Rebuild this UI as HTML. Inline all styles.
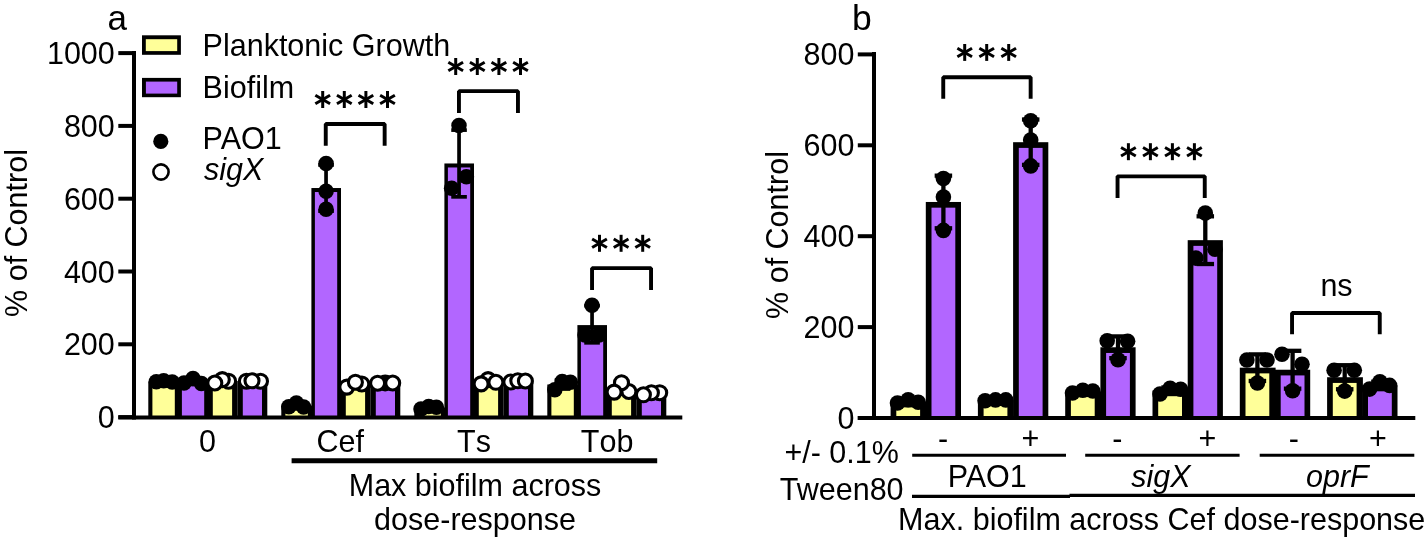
<!DOCTYPE html>
<html><head><meta charset="utf-8"><style>
html,body{margin:0;padding:0;background:#fff;overflow:hidden;width:1425px;height:540px;}
svg{display:block;will-change:transform;}
text{font-family:"Liberation Sans", sans-serif;fill:#000;}
</style></head><body>
<svg width="1425" height="540" viewBox="0 0 1425 540">
<rect width="1425" height="540" fill="#fff"/>
<rect x="148.30" y="381.53" width="30.70" height="35.97" fill="#000"/>
<rect x="152.40" y="385.53" width="22.40" height="31.97" fill="#FFFF99"/>
<rect x="178.40" y="381.67" width="29.60" height="35.83" fill="#000"/>
<rect x="181.90" y="385.67" width="22.30" height="31.83" fill="#B266FF"/>
<rect x="208.00" y="381.27" width="29.30" height="36.23" fill="#000"/>
<rect x="212.80" y="386.57" width="19.30" height="30.93" fill="#FFFF99"/>
<rect x="237.30" y="381.07" width="30.00" height="36.43" fill="#000"/>
<rect x="242.80" y="386.37" width="19.20" height="31.13" fill="#B266FF"/>
<rect x="281.30" y="405.60" width="30.70" height="11.90" fill="#000"/>
<rect x="285.40" y="409.60" width="22.40" height="7.90" fill="#FFFF99"/>
<rect x="311.40" y="188.03" width="29.60" height="229.47" fill="#000"/>
<rect x="314.90" y="192.03" width="22.30" height="225.47" fill="#B266FF"/>
<rect x="341.00" y="384.43" width="29.30" height="33.07" fill="#000"/>
<rect x="345.80" y="389.73" width="19.30" height="27.77" fill="#FFFF99"/>
<rect x="370.30" y="383.07" width="30.00" height="34.43" fill="#000"/>
<rect x="375.80" y="388.37" width="19.20" height="29.13" fill="#B266FF"/>
<rect x="414.30" y="407.60" width="30.70" height="9.90" fill="#000"/>
<rect x="418.40" y="411.60" width="22.40" height="5.90" fill="#FFFF99"/>
<rect x="444.40" y="163.47" width="29.60" height="254.03" fill="#000"/>
<rect x="447.90" y="167.47" width="22.30" height="250.03" fill="#B266FF"/>
<rect x="474.00" y="381.93" width="29.30" height="35.57" fill="#000"/>
<rect x="478.80" y="387.23" width="19.30" height="30.27" fill="#FFFF99"/>
<rect x="503.30" y="381.27" width="30.00" height="36.23" fill="#000"/>
<rect x="508.80" y="386.57" width="19.20" height="30.93" fill="#B266FF"/>
<rect x="547.30" y="384.50" width="30.70" height="33.00" fill="#000"/>
<rect x="551.40" y="388.50" width="22.40" height="29.00" fill="#FFFF99"/>
<rect x="577.40" y="325.10" width="29.60" height="92.40" fill="#000"/>
<rect x="580.90" y="329.10" width="22.30" height="88.40" fill="#B266FF"/>
<rect x="607.00" y="388.77" width="29.30" height="28.73" fill="#000"/>
<rect x="611.80" y="394.07" width="19.30" height="23.43" fill="#FFFF99"/>
<rect x="636.30" y="393.40" width="30.00" height="24.10" fill="#000"/>
<rect x="641.80" y="398.70" width="19.20" height="18.80" fill="#B266FF"/>
<line x1="163.60" y1="380.89" x2="163.60" y2="382.18" stroke="#000" stroke-width="3.7" stroke-linecap="butt"/>
<line x1="155.80" y1="380.89" x2="171.40" y2="380.89" stroke="#000" stroke-width="3.7" stroke-linecap="butt"/>
<line x1="155.80" y1="382.18" x2="171.40" y2="382.18" stroke="#000" stroke-width="3.7" stroke-linecap="butt"/>
<circle cx="156.30" cy="381.80" r="7.75" fill="#000"/>
<circle cx="163.70" cy="380.80" r="7.75" fill="#000"/>
<circle cx="172.20" cy="382.00" r="7.75" fill="#000"/>
<line x1="193.05" y1="378.91" x2="193.05" y2="384.42" stroke="#000" stroke-width="3.7" stroke-linecap="butt"/>
<line x1="185.25" y1="378.91" x2="200.85" y2="378.91" stroke="#000" stroke-width="3.7" stroke-linecap="butt"/>
<line x1="185.25" y1="384.42" x2="200.85" y2="384.42" stroke="#000" stroke-width="3.7" stroke-linecap="butt"/>
<circle cx="184.00" cy="383.00" r="7.75" fill="#000"/>
<circle cx="193.00" cy="378.50" r="7.75" fill="#000"/>
<circle cx="201.40" cy="383.50" r="7.75" fill="#000"/>
<line x1="222.45" y1="379.57" x2="222.45" y2="382.97" stroke="#000" stroke-width="3.7" stroke-linecap="butt"/>
<line x1="214.65" y1="379.57" x2="230.25" y2="379.57" stroke="#000" stroke-width="3.7" stroke-linecap="butt"/>
<line x1="214.65" y1="382.97" x2="230.25" y2="382.97" stroke="#000" stroke-width="3.7" stroke-linecap="butt"/>
<circle cx="228.60" cy="381.20" r="7.0" fill="#fff" stroke="#000" stroke-width="3.1"/>
<circle cx="222.30" cy="379.60" r="7.0" fill="#fff" stroke="#000" stroke-width="3.1"/>
<circle cx="214.80" cy="383.00" r="7.0" fill="#fff" stroke="#000" stroke-width="3.1"/>
<line x1="252.40" y1="380.84" x2="252.40" y2="381.30" stroke="#000" stroke-width="3.7" stroke-linecap="butt"/>
<line x1="244.60" y1="380.84" x2="260.20" y2="380.84" stroke="#000" stroke-width="3.7" stroke-linecap="butt"/>
<line x1="244.60" y1="381.30" x2="260.20" y2="381.30" stroke="#000" stroke-width="3.7" stroke-linecap="butt"/>
<circle cx="246.40" cy="381.20" r="7.0" fill="#fff" stroke="#000" stroke-width="3.1"/>
<circle cx="260.50" cy="381.20" r="7.0" fill="#fff" stroke="#000" stroke-width="3.1"/>
<circle cx="252.00" cy="380.80" r="7.0" fill="#fff" stroke="#000" stroke-width="3.1"/>
<line x1="296.60" y1="403.35" x2="296.60" y2="407.85" stroke="#000" stroke-width="3.7" stroke-linecap="butt"/>
<line x1="288.80" y1="403.35" x2="304.40" y2="403.35" stroke="#000" stroke-width="3.7" stroke-linecap="butt"/>
<line x1="288.80" y1="407.85" x2="304.40" y2="407.85" stroke="#000" stroke-width="3.7" stroke-linecap="butt"/>
<circle cx="288.80" cy="406.80" r="7.75" fill="#000"/>
<circle cx="303.60" cy="407.00" r="7.75" fill="#000"/>
<circle cx="296.40" cy="403.00" r="7.75" fill="#000"/>
<line x1="326.05" y1="164.96" x2="326.05" y2="211.11" stroke="#000" stroke-width="3.7" stroke-linecap="butt"/>
<line x1="318.25" y1="164.96" x2="333.85" y2="164.96" stroke="#000" stroke-width="3.7" stroke-linecap="butt"/>
<line x1="318.25" y1="211.11" x2="333.85" y2="211.11" stroke="#000" stroke-width="3.7" stroke-linecap="butt"/>
<circle cx="326.10" cy="163.50" r="7.75" fill="#000"/>
<circle cx="326.10" cy="191.30" r="7.75" fill="#000"/>
<circle cx="326.10" cy="209.30" r="7.75" fill="#000"/>
<line x1="355.45" y1="381.95" x2="355.45" y2="386.91" stroke="#000" stroke-width="3.7" stroke-linecap="butt"/>
<line x1="347.65" y1="381.95" x2="363.25" y2="381.95" stroke="#000" stroke-width="3.7" stroke-linecap="butt"/>
<line x1="347.65" y1="386.91" x2="363.25" y2="386.91" stroke="#000" stroke-width="3.7" stroke-linecap="butt"/>
<circle cx="346.80" cy="387.10" r="7.0" fill="#fff" stroke="#000" stroke-width="3.1"/>
<circle cx="361.80" cy="384.00" r="7.0" fill="#fff" stroke="#000" stroke-width="3.1"/>
<circle cx="355.40" cy="382.20" r="7.0" fill="#fff" stroke="#000" stroke-width="3.1"/>
<line x1="385.40" y1="382.95" x2="385.40" y2="383.18" stroke="#000" stroke-width="3.7" stroke-linecap="butt"/>
<line x1="377.60" y1="382.95" x2="393.20" y2="382.95" stroke="#000" stroke-width="3.7" stroke-linecap="butt"/>
<line x1="377.60" y1="383.18" x2="393.20" y2="383.18" stroke="#000" stroke-width="3.7" stroke-linecap="butt"/>
<circle cx="385.20" cy="383.00" r="8.5" fill="#000"/>
<circle cx="377.60" cy="383.20" r="7.0" fill="#fff" stroke="#000" stroke-width="3.1"/>
<circle cx="392.70" cy="383.00" r="7.0" fill="#fff" stroke="#000" stroke-width="3.1"/>
<line x1="429.60" y1="406.35" x2="429.60" y2="408.85" stroke="#000" stroke-width="3.7" stroke-linecap="butt"/>
<line x1="421.80" y1="406.35" x2="437.40" y2="406.35" stroke="#000" stroke-width="3.7" stroke-linecap="butt"/>
<line x1="421.80" y1="408.85" x2="437.40" y2="408.85" stroke="#000" stroke-width="3.7" stroke-linecap="butt"/>
<circle cx="421.00" cy="409.00" r="7.75" fill="#000"/>
<circle cx="428.70" cy="406.60" r="7.75" fill="#000"/>
<circle cx="436.40" cy="407.20" r="7.75" fill="#000"/>
<line x1="459.05" y1="130.09" x2="459.05" y2="196.85" stroke="#000" stroke-width="3.7" stroke-linecap="butt"/>
<line x1="451.25" y1="130.09" x2="466.85" y2="130.09" stroke="#000" stroke-width="3.7" stroke-linecap="butt"/>
<line x1="451.25" y1="196.85" x2="466.85" y2="196.85" stroke="#000" stroke-width="3.7" stroke-linecap="butt"/>
<circle cx="459.00" cy="125.50" r="7.75" fill="#000"/>
<circle cx="466.40" cy="176.70" r="7.75" fill="#000"/>
<circle cx="451.60" cy="188.20" r="7.75" fill="#000"/>
<line x1="488.45" y1="379.76" x2="488.45" y2="384.11" stroke="#000" stroke-width="3.7" stroke-linecap="butt"/>
<line x1="480.65" y1="379.76" x2="496.25" y2="379.76" stroke="#000" stroke-width="3.7" stroke-linecap="butt"/>
<line x1="480.65" y1="384.11" x2="496.25" y2="384.11" stroke="#000" stroke-width="3.7" stroke-linecap="butt"/>
<circle cx="488.10" cy="379.60" r="7.0" fill="#fff" stroke="#000" stroke-width="3.1"/>
<circle cx="481.10" cy="383.90" r="7.0" fill="#fff" stroke="#000" stroke-width="3.1"/>
<circle cx="495.90" cy="382.30" r="7.0" fill="#fff" stroke="#000" stroke-width="3.1"/>
<line x1="518.40" y1="380.62" x2="518.40" y2="381.91" stroke="#000" stroke-width="3.7" stroke-linecap="butt"/>
<line x1="510.60" y1="380.62" x2="526.20" y2="380.62" stroke="#000" stroke-width="3.7" stroke-linecap="butt"/>
<line x1="510.60" y1="381.91" x2="526.20" y2="381.91" stroke="#000" stroke-width="3.7" stroke-linecap="butt"/>
<circle cx="510.80" cy="382.00" r="7.0" fill="#fff" stroke="#000" stroke-width="3.1"/>
<circle cx="517.80" cy="380.80" r="7.0" fill="#fff" stroke="#000" stroke-width="3.1"/>
<circle cx="525.40" cy="381.00" r="7.0" fill="#fff" stroke="#000" stroke-width="3.1"/>
<line x1="562.60" y1="379.98" x2="562.60" y2="389.02" stroke="#000" stroke-width="3.7" stroke-linecap="butt"/>
<line x1="554.80" y1="379.98" x2="570.40" y2="379.98" stroke="#000" stroke-width="3.7" stroke-linecap="butt"/>
<line x1="554.80" y1="389.02" x2="570.40" y2="389.02" stroke="#000" stroke-width="3.7" stroke-linecap="butt"/>
<circle cx="554.80" cy="389.70" r="7.75" fill="#000"/>
<circle cx="562.20" cy="381.50" r="7.75" fill="#000"/>
<circle cx="570.40" cy="382.30" r="7.75" fill="#000"/>
<line x1="592.05" y1="305.60" x2="592.05" y2="342.80" stroke="#000" stroke-width="3.7" stroke-linecap="butt"/>
<line x1="584.25" y1="305.60" x2="599.85" y2="305.60" stroke="#000" stroke-width="3.7" stroke-linecap="butt"/>
<line x1="584.25" y1="342.80" x2="599.85" y2="342.80" stroke="#000" stroke-width="3.7" stroke-linecap="butt"/>
<circle cx="592.00" cy="305.20" r="7.75" fill="#000"/>
<circle cx="585.00" cy="335.00" r="7.75" fill="#000"/>
<circle cx="599.00" cy="335.00" r="7.75" fill="#000"/>
<line x1="621.45" y1="383.50" x2="621.45" y2="394.03" stroke="#000" stroke-width="3.7" stroke-linecap="butt"/>
<line x1="613.65" y1="383.50" x2="629.25" y2="383.50" stroke="#000" stroke-width="3.7" stroke-linecap="butt"/>
<line x1="613.65" y1="394.03" x2="629.25" y2="394.03" stroke="#000" stroke-width="3.7" stroke-linecap="butt"/>
<circle cx="628.90" cy="391.50" r="7.0" fill="#fff" stroke="#000" stroke-width="3.1"/>
<circle cx="621.50" cy="382.70" r="7.0" fill="#fff" stroke="#000" stroke-width="3.1"/>
<circle cx="614.10" cy="392.10" r="7.0" fill="#fff" stroke="#000" stroke-width="3.1"/>
<line x1="651.40" y1="392.19" x2="651.40" y2="394.61" stroke="#000" stroke-width="3.7" stroke-linecap="butt"/>
<line x1="643.60" y1="392.19" x2="659.20" y2="392.19" stroke="#000" stroke-width="3.7" stroke-linecap="butt"/>
<line x1="643.60" y1="394.61" x2="659.20" y2="394.61" stroke="#000" stroke-width="3.7" stroke-linecap="butt"/>
<circle cx="659.70" cy="392.70" r="7.0" fill="#fff" stroke="#000" stroke-width="3.1"/>
<circle cx="651.40" cy="392.70" r="7.0" fill="#fff" stroke="#000" stroke-width="3.1"/>
<circle cx="643.40" cy="394.80" r="7.0" fill="#fff" stroke="#000" stroke-width="3.1"/>
<line x1="134.00" y1="51.00" x2="134.00" y2="419.50" stroke="#000" stroke-width="4" stroke-linecap="butt"/>
<line x1="118.30" y1="417.10" x2="134.00" y2="417.10" stroke="#000" stroke-width="4" stroke-linecap="butt"/>
<line x1="118.30" y1="344.30" x2="134.00" y2="344.30" stroke="#000" stroke-width="4" stroke-linecap="butt"/>
<line x1="118.30" y1="271.50" x2="134.00" y2="271.50" stroke="#000" stroke-width="4" stroke-linecap="butt"/>
<line x1="118.30" y1="198.70" x2="134.00" y2="198.70" stroke="#000" stroke-width="4" stroke-linecap="butt"/>
<line x1="118.30" y1="125.90" x2="134.00" y2="125.90" stroke="#000" stroke-width="4" stroke-linecap="butt"/>
<line x1="118.30" y1="53.10" x2="134.00" y2="53.10" stroke="#000" stroke-width="4" stroke-linecap="butt"/>
<line x1="118.30" y1="417.50" x2="682.30" y2="417.50" stroke="#000" stroke-width="4" stroke-linecap="butt"/>
<rect x="890.60" y="401.67" width="35.80" height="16.33" fill="#000"/>
<rect x="896.30" y="407.37" width="23.80" height="10.63" fill="#FFFF99"/>
<rect x="925.80" y="201.97" width="35.20" height="216.03" fill="#000"/>
<rect x="931.50" y="207.67" width="23.80" height="210.33" fill="#B266FF"/>
<rect x="977.90" y="400.20" width="35.80" height="17.80" fill="#000"/>
<rect x="983.60" y="405.90" width="23.80" height="12.10" fill="#FFFF99"/>
<rect x="1013.10" y="142.20" width="35.20" height="275.80" fill="#000"/>
<rect x="1018.80" y="147.90" width="23.80" height="270.10" fill="#B266FF"/>
<rect x="1065.20" y="391.40" width="35.80" height="26.60" fill="#000"/>
<rect x="1070.90" y="397.10" width="23.80" height="20.90" fill="#FFFF99"/>
<rect x="1100.40" y="347.27" width="35.20" height="70.73" fill="#000"/>
<rect x="1106.10" y="352.97" width="23.80" height="65.03" fill="#B266FF"/>
<rect x="1152.50" y="390.50" width="35.80" height="27.50" fill="#000"/>
<rect x="1158.20" y="396.20" width="23.80" height="21.80" fill="#FFFF99"/>
<rect x="1187.70" y="240.17" width="35.20" height="177.83" fill="#000"/>
<rect x="1193.40" y="245.87" width="23.80" height="172.13" fill="#B266FF"/>
<rect x="1239.80" y="367.67" width="35.80" height="50.33" fill="#000"/>
<rect x="1245.50" y="373.37" width="23.80" height="44.63" fill="#FFFF99"/>
<rect x="1275.00" y="369.73" width="35.20" height="48.27" fill="#000"/>
<rect x="1280.70" y="375.43" width="23.80" height="42.57" fill="#B266FF"/>
<rect x="1327.10" y="377.23" width="35.80" height="40.77" fill="#000"/>
<rect x="1332.80" y="382.93" width="23.80" height="35.07" fill="#FFFF99"/>
<rect x="1362.30" y="385.40" width="35.20" height="32.60" fill="#000"/>
<rect x="1368.00" y="391.10" width="23.80" height="26.90" fill="#B266FF"/>
<line x1="908.20" y1="400.00" x2="908.20" y2="403.33" stroke="#000" stroke-width="4.3" stroke-linecap="butt"/>
<line x1="899.45" y1="400.00" x2="916.95" y2="400.00" stroke="#000" stroke-width="4.3" stroke-linecap="butt"/>
<line x1="899.45" y1="403.33" x2="916.95" y2="403.33" stroke="#000" stroke-width="4.3" stroke-linecap="butt"/>
<circle cx="897.50" cy="403.00" r="7.8" fill="#000"/>
<circle cx="908.20" cy="399.80" r="7.8" fill="#000"/>
<circle cx="918.20" cy="402.20" r="7.8" fill="#000"/>
<line x1="943.40" y1="175.66" x2="943.40" y2="228.27" stroke="#000" stroke-width="4.3" stroke-linecap="butt"/>
<line x1="934.65" y1="175.66" x2="952.15" y2="175.66" stroke="#000" stroke-width="4.3" stroke-linecap="butt"/>
<line x1="934.65" y1="228.27" x2="952.15" y2="228.27" stroke="#000" stroke-width="4.3" stroke-linecap="butt"/>
<circle cx="943.40" cy="178.50" r="7.8" fill="#000"/>
<circle cx="943.40" cy="197.00" r="7.8" fill="#000"/>
<circle cx="943.40" cy="230.40" r="7.8" fill="#000"/>
<line x1="995.50" y1="399.68" x2="995.50" y2="400.72" stroke="#000" stroke-width="4.3" stroke-linecap="butt"/>
<line x1="986.75" y1="399.68" x2="1004.25" y2="399.68" stroke="#000" stroke-width="4.3" stroke-linecap="butt"/>
<line x1="986.75" y1="400.72" x2="1004.25" y2="400.72" stroke="#000" stroke-width="4.3" stroke-linecap="butt"/>
<circle cx="985.10" cy="400.80" r="7.8" fill="#000"/>
<circle cx="995.50" cy="399.90" r="7.8" fill="#000"/>
<circle cx="1005.80" cy="399.90" r="7.8" fill="#000"/>
<line x1="1030.70" y1="119.52" x2="1030.70" y2="164.88" stroke="#000" stroke-width="4.3" stroke-linecap="butt"/>
<line x1="1021.95" y1="119.52" x2="1039.45" y2="119.52" stroke="#000" stroke-width="4.3" stroke-linecap="butt"/>
<line x1="1021.95" y1="164.88" x2="1039.45" y2="164.88" stroke="#000" stroke-width="4.3" stroke-linecap="butt"/>
<circle cx="1030.70" cy="120.70" r="7.8" fill="#000"/>
<circle cx="1030.70" cy="140.00" r="7.8" fill="#000"/>
<circle cx="1030.70" cy="165.90" r="7.8" fill="#000"/>
<line x1="1082.80" y1="389.96" x2="1082.80" y2="392.84" stroke="#000" stroke-width="4.3" stroke-linecap="butt"/>
<line x1="1074.05" y1="389.96" x2="1091.55" y2="389.96" stroke="#000" stroke-width="4.3" stroke-linecap="butt"/>
<line x1="1074.05" y1="392.84" x2="1091.55" y2="392.84" stroke="#000" stroke-width="4.3" stroke-linecap="butt"/>
<circle cx="1072.50" cy="393.00" r="7.8" fill="#000"/>
<circle cx="1082.80" cy="390.20" r="7.8" fill="#000"/>
<circle cx="1092.80" cy="391.00" r="7.8" fill="#000"/>
<line x1="1118.00" y1="336.41" x2="1118.00" y2="358.12" stroke="#000" stroke-width="4.3" stroke-linecap="butt"/>
<line x1="1109.25" y1="336.41" x2="1126.75" y2="336.41" stroke="#000" stroke-width="4.3" stroke-linecap="butt"/>
<line x1="1109.25" y1="358.12" x2="1126.75" y2="358.12" stroke="#000" stroke-width="4.3" stroke-linecap="butt"/>
<circle cx="1107.20" cy="340.70" r="7.8" fill="#000"/>
<circle cx="1127.60" cy="341.30" r="7.8" fill="#000"/>
<circle cx="1118.00" cy="359.80" r="7.8" fill="#000"/>
<line x1="1170.10" y1="387.44" x2="1170.10" y2="393.56" stroke="#000" stroke-width="4.3" stroke-linecap="butt"/>
<line x1="1161.35" y1="387.44" x2="1178.85" y2="387.44" stroke="#000" stroke-width="4.3" stroke-linecap="butt"/>
<line x1="1161.35" y1="393.56" x2="1178.85" y2="393.56" stroke="#000" stroke-width="4.3" stroke-linecap="butt"/>
<circle cx="1160.00" cy="394.00" r="7.8" fill="#000"/>
<circle cx="1170.10" cy="388.30" r="7.8" fill="#000"/>
<circle cx="1180.60" cy="389.20" r="7.8" fill="#000"/>
<line x1="1205.30" y1="216.32" x2="1205.30" y2="264.02" stroke="#000" stroke-width="4.3" stroke-linecap="butt"/>
<line x1="1196.55" y1="216.32" x2="1214.05" y2="216.32" stroke="#000" stroke-width="4.3" stroke-linecap="butt"/>
<line x1="1196.55" y1="264.02" x2="1214.05" y2="264.02" stroke="#000" stroke-width="4.3" stroke-linecap="butt"/>
<circle cx="1205.30" cy="213.10" r="7.8" fill="#000"/>
<circle cx="1215.00" cy="249.30" r="7.8" fill="#000"/>
<circle cx="1195.80" cy="258.10" r="7.8" fill="#000"/>
<line x1="1257.40" y1="354.39" x2="1257.40" y2="380.95" stroke="#000" stroke-width="4.3" stroke-linecap="butt"/>
<line x1="1248.65" y1="354.39" x2="1266.15" y2="354.39" stroke="#000" stroke-width="4.3" stroke-linecap="butt"/>
<line x1="1248.65" y1="380.95" x2="1266.15" y2="380.95" stroke="#000" stroke-width="4.3" stroke-linecap="butt"/>
<circle cx="1246.90" cy="360.00" r="7.8" fill="#000"/>
<circle cx="1267.00" cy="360.00" r="7.8" fill="#000"/>
<circle cx="1257.40" cy="383.00" r="7.8" fill="#000"/>
<line x1="1292.60" y1="350.82" x2="1292.60" y2="388.65" stroke="#000" stroke-width="4.3" stroke-linecap="butt"/>
<line x1="1283.85" y1="350.82" x2="1301.35" y2="350.82" stroke="#000" stroke-width="4.3" stroke-linecap="butt"/>
<line x1="1283.85" y1="388.65" x2="1301.35" y2="388.65" stroke="#000" stroke-width="4.3" stroke-linecap="butt"/>
<circle cx="1282.00" cy="354.20" r="7.8" fill="#000"/>
<circle cx="1302.00" cy="364.20" r="7.8" fill="#000"/>
<circle cx="1292.60" cy="390.80" r="7.8" fill="#000"/>
<line x1="1344.70" y1="365.22" x2="1344.70" y2="389.24" stroke="#000" stroke-width="4.3" stroke-linecap="butt"/>
<line x1="1335.95" y1="365.22" x2="1353.45" y2="365.22" stroke="#000" stroke-width="4.3" stroke-linecap="butt"/>
<line x1="1335.95" y1="389.24" x2="1353.45" y2="389.24" stroke="#000" stroke-width="4.3" stroke-linecap="butt"/>
<circle cx="1334.10" cy="370.30" r="7.8" fill="#000"/>
<circle cx="1354.30" cy="370.30" r="7.8" fill="#000"/>
<circle cx="1344.70" cy="391.10" r="7.8" fill="#000"/>
<line x1="1379.90" y1="381.70" x2="1379.90" y2="389.10" stroke="#000" stroke-width="4.3" stroke-linecap="butt"/>
<line x1="1371.15" y1="381.70" x2="1388.65" y2="381.70" stroke="#000" stroke-width="4.3" stroke-linecap="butt"/>
<line x1="1371.15" y1="389.10" x2="1388.65" y2="389.10" stroke="#000" stroke-width="4.3" stroke-linecap="butt"/>
<circle cx="1369.60" cy="389.10" r="7.8" fill="#000"/>
<circle cx="1379.90" cy="381.70" r="7.8" fill="#000"/>
<circle cx="1389.60" cy="385.40" r="7.8" fill="#000"/>
<line x1="874.00" y1="52.00" x2="874.00" y2="420.00" stroke="#000" stroke-width="4" stroke-linecap="butt"/>
<line x1="857.80" y1="418.00" x2="874.00" y2="418.00" stroke="#000" stroke-width="4" stroke-linecap="butt"/>
<line x1="857.80" y1="327.10" x2="874.00" y2="327.10" stroke="#000" stroke-width="4" stroke-linecap="butt"/>
<line x1="857.80" y1="236.20" x2="874.00" y2="236.20" stroke="#000" stroke-width="4" stroke-linecap="butt"/>
<line x1="857.80" y1="145.30" x2="874.00" y2="145.30" stroke="#000" stroke-width="4" stroke-linecap="butt"/>
<line x1="857.80" y1="54.40" x2="874.00" y2="54.40" stroke="#000" stroke-width="4" stroke-linecap="butt"/>
<line x1="857.80" y1="418.00" x2="1415.30" y2="418.00" stroke="#000" stroke-width="3.8" stroke-linecap="butt"/>
<line x1="322.70" y1="91.00" x2="322.70" y2="108.00" stroke="#000" stroke-width="3.0"/>
<line x1="315.34" y1="95.25" x2="330.06" y2="103.75" stroke="#000" stroke-width="3.0"/>
<line x1="315.34" y1="103.75" x2="330.06" y2="95.25" stroke="#000" stroke-width="3.0"/>
<line x1="344.30" y1="91.00" x2="344.30" y2="108.00" stroke="#000" stroke-width="3.0"/>
<line x1="336.94" y1="95.25" x2="351.66" y2="103.75" stroke="#000" stroke-width="3.0"/>
<line x1="336.94" y1="103.75" x2="351.66" y2="95.25" stroke="#000" stroke-width="3.0"/>
<line x1="365.90" y1="91.00" x2="365.90" y2="108.00" stroke="#000" stroke-width="3.0"/>
<line x1="358.54" y1="95.25" x2="373.26" y2="103.75" stroke="#000" stroke-width="3.0"/>
<line x1="358.54" y1="103.75" x2="373.26" y2="95.25" stroke="#000" stroke-width="3.0"/>
<line x1="387.50" y1="91.00" x2="387.50" y2="108.00" stroke="#000" stroke-width="3.0"/>
<line x1="380.14" y1="95.25" x2="394.86" y2="103.75" stroke="#000" stroke-width="3.0"/>
<line x1="380.14" y1="103.75" x2="394.86" y2="95.25" stroke="#000" stroke-width="3.0"/>
<path d="M325.75,145.70 V124.05 H384.65 V145.70" fill="none" stroke="#000" stroke-width="3.9" stroke-linejoin="bevel"/>
<line x1="455.70" y1="58.00" x2="455.70" y2="75.00" stroke="#000" stroke-width="3.0"/>
<line x1="448.34" y1="62.25" x2="463.06" y2="70.75" stroke="#000" stroke-width="3.0"/>
<line x1="448.34" y1="70.75" x2="463.06" y2="62.25" stroke="#000" stroke-width="3.0"/>
<line x1="477.30" y1="58.00" x2="477.30" y2="75.00" stroke="#000" stroke-width="3.0"/>
<line x1="469.94" y1="62.25" x2="484.66" y2="70.75" stroke="#000" stroke-width="3.0"/>
<line x1="469.94" y1="70.75" x2="484.66" y2="62.25" stroke="#000" stroke-width="3.0"/>
<line x1="498.90" y1="58.00" x2="498.90" y2="75.00" stroke="#000" stroke-width="3.0"/>
<line x1="491.54" y1="62.25" x2="506.26" y2="70.75" stroke="#000" stroke-width="3.0"/>
<line x1="491.54" y1="70.75" x2="506.26" y2="62.25" stroke="#000" stroke-width="3.0"/>
<line x1="520.50" y1="58.00" x2="520.50" y2="75.00" stroke="#000" stroke-width="3.0"/>
<line x1="513.14" y1="62.25" x2="527.86" y2="70.75" stroke="#000" stroke-width="3.0"/>
<line x1="513.14" y1="70.75" x2="527.86" y2="62.25" stroke="#000" stroke-width="3.0"/>
<path d="M458.95,112.90 V91.15 H517.95 V112.90" fill="none" stroke="#000" stroke-width="3.9" stroke-linejoin="bevel"/>
<line x1="599.50" y1="234.80" x2="599.50" y2="251.80" stroke="#000" stroke-width="3.0"/>
<line x1="592.14" y1="239.05" x2="606.86" y2="247.55" stroke="#000" stroke-width="3.0"/>
<line x1="592.14" y1="247.55" x2="606.86" y2="239.05" stroke="#000" stroke-width="3.0"/>
<line x1="621.10" y1="234.80" x2="621.10" y2="251.80" stroke="#000" stroke-width="3.0"/>
<line x1="613.74" y1="239.05" x2="628.46" y2="247.55" stroke="#000" stroke-width="3.0"/>
<line x1="613.74" y1="247.55" x2="628.46" y2="239.05" stroke="#000" stroke-width="3.0"/>
<line x1="642.70" y1="234.80" x2="642.70" y2="251.80" stroke="#000" stroke-width="3.0"/>
<line x1="635.34" y1="239.05" x2="650.06" y2="247.55" stroke="#000" stroke-width="3.0"/>
<line x1="635.34" y1="247.55" x2="650.06" y2="239.05" stroke="#000" stroke-width="3.0"/>
<path d="M592.05,289.90 V268.15 H651.05 V289.90" fill="none" stroke="#000" stroke-width="3.9" stroke-linejoin="bevel"/>
<line x1="964.70" y1="44.00" x2="964.70" y2="60.90" stroke="#000" stroke-width="3.0"/>
<line x1="957.38" y1="48.23" x2="972.02" y2="56.68" stroke="#000" stroke-width="3.0"/>
<line x1="957.38" y1="56.68" x2="972.02" y2="48.23" stroke="#000" stroke-width="3.0"/>
<line x1="986.70" y1="44.00" x2="986.70" y2="60.90" stroke="#000" stroke-width="3.0"/>
<line x1="979.38" y1="48.23" x2="994.02" y2="56.68" stroke="#000" stroke-width="3.0"/>
<line x1="979.38" y1="56.68" x2="994.02" y2="48.23" stroke="#000" stroke-width="3.0"/>
<line x1="1008.70" y1="44.00" x2="1008.70" y2="60.90" stroke="#000" stroke-width="3.0"/>
<line x1="1001.38" y1="48.23" x2="1016.02" y2="56.68" stroke="#000" stroke-width="3.0"/>
<line x1="1001.38" y1="56.68" x2="1016.02" y2="48.23" stroke="#000" stroke-width="3.0"/>
<path d="M943.25,98.70 V77.25 H1030.65 V98.70" fill="none" stroke="#000" stroke-width="3.9" stroke-linejoin="bevel"/>
<line x1="1128.40" y1="143.20" x2="1128.40" y2="160.20" stroke="#000" stroke-width="3.0"/>
<line x1="1121.04" y1="147.45" x2="1135.76" y2="155.95" stroke="#000" stroke-width="3.0"/>
<line x1="1121.04" y1="155.95" x2="1135.76" y2="147.45" stroke="#000" stroke-width="3.0"/>
<line x1="1150.40" y1="143.20" x2="1150.40" y2="160.20" stroke="#000" stroke-width="3.0"/>
<line x1="1143.04" y1="147.45" x2="1157.76" y2="155.95" stroke="#000" stroke-width="3.0"/>
<line x1="1143.04" y1="155.95" x2="1157.76" y2="147.45" stroke="#000" stroke-width="3.0"/>
<line x1="1172.40" y1="143.20" x2="1172.40" y2="160.20" stroke="#000" stroke-width="3.0"/>
<line x1="1165.04" y1="147.45" x2="1179.76" y2="155.95" stroke="#000" stroke-width="3.0"/>
<line x1="1165.04" y1="155.95" x2="1179.76" y2="147.45" stroke="#000" stroke-width="3.0"/>
<line x1="1194.40" y1="143.20" x2="1194.40" y2="160.20" stroke="#000" stroke-width="3.0"/>
<line x1="1187.04" y1="147.45" x2="1201.76" y2="155.95" stroke="#000" stroke-width="3.0"/>
<line x1="1187.04" y1="155.95" x2="1201.76" y2="147.45" stroke="#000" stroke-width="3.0"/>
<path d="M1117.55,198.10 V176.35 H1204.75 V198.10" fill="none" stroke="#000" stroke-width="3.9" stroke-linejoin="bevel"/>
<path d="M1292.05,334.30 V313.05 H1379.75 V334.30" fill="none" stroke="#000" stroke-width="3.9" stroke-linejoin="bevel"/>
<rect x="142.00" y="35.30" width="38.90" height="19.50" fill="#000"/>
<rect x="145.80" y="39.20" width="31.40" height="11.90" fill="#FFFF99"/>
<rect x="142.00" y="77.90" width="38.90" height="19.30" fill="#000"/>
<rect x="145.90" y="81.60" width="31.30" height="12.00" fill="#B266FF"/>
<circle cx="160.80" cy="141.40" r="7.6" fill="#000"/>
<circle cx="161.00" cy="172.00" r="7.6" fill="#fff" stroke="#000" stroke-width="2.6"/>
<line x1="291.60" y1="460.80" x2="657.20" y2="460.80" stroke="#000" stroke-width="4.9" stroke-linecap="butt"/>
<line x1="912.20" y1="455.30" x2="1066.00" y2="455.30" stroke="#000" stroke-width="3" stroke-linecap="butt"/>
<line x1="1085.20" y1="455.30" x2="1239.60" y2="455.30" stroke="#000" stroke-width="3" stroke-linecap="butt"/>
<line x1="1259.70" y1="455.30" x2="1414.30" y2="455.30" stroke="#000" stroke-width="3" stroke-linecap="butt"/>
<line x1="912.00" y1="496.30" x2="1070.00" y2="496.30" stroke="#000" stroke-width="3.3" stroke-linecap="butt"/>
<line x1="1069.50" y1="495.30" x2="1415.00" y2="495.30" stroke="#000" stroke-width="3.3" stroke-linecap="butt"/>
<text x="107.40" y="30.40" font-size="35" text-anchor="start" style="">a</text>
<text x="114.80" y="428.10" font-size="30.5" text-anchor="end" style="">0</text>
<text x="114.80" y="355.30" font-size="30.5" text-anchor="end" style="">200</text>
<text x="114.80" y="282.50" font-size="30.5" text-anchor="end" style="">400</text>
<text x="114.80" y="209.70" font-size="30.5" text-anchor="end" style="">600</text>
<text x="114.80" y="136.90" font-size="30.5" text-anchor="end" style="">800</text>
<text x="114.80" y="64.10" font-size="30.5" text-anchor="end" style="">1000</text>
<text x="26.50" y="233.00" font-size="30.5" text-anchor="middle" style="" transform="rotate(-90 26.5 233)">% of Control</text>
<text x="202.60" y="56.10" font-size="30.5" text-anchor="start" style="">Planktonic Growth</text>
<text x="202.60" y="97.90" font-size="30.5" text-anchor="start" style="">Biofilm</text>
<text x="202.60" y="149.00" font-size="30.5" text-anchor="start" style="">PAO1</text>
<text x="204.10" y="180.30" font-size="30.5" text-anchor="start" style="font-style:italic;">sigX</text>
<text x="207.40" y="452.00" font-size="30.5" text-anchor="middle" style="font-kerning:none;">0</text>
<text x="340.20" y="452.00" font-size="30.5" text-anchor="middle" style="font-kerning:none;">Cef</text>
<text x="474.00" y="452.00" font-size="30.5" text-anchor="middle" style="font-kerning:none;">Ts</text>
<text x="607.10" y="452.00" font-size="30.5" text-anchor="middle" style="font-kerning:none;">Tob</text>
<text x="475.00" y="495.80" font-size="30.5" text-anchor="middle" style="">Max biofilm across</text>
<text x="475.00" y="530.00" font-size="30.5" text-anchor="middle" style="">dose-response</text>
<text x="852.00" y="30.00" font-size="35.5" text-anchor="start" style="">b</text>
<text x="854.40" y="429.00" font-size="30.5" text-anchor="end" style="">0</text>
<text x="854.40" y="338.10" font-size="30.5" text-anchor="end" style="">200</text>
<text x="854.40" y="247.20" font-size="30.5" text-anchor="end" style="">400</text>
<text x="854.40" y="156.30" font-size="30.5" text-anchor="end" style="">600</text>
<text x="854.40" y="65.40" font-size="30.5" text-anchor="end" style="">800</text>
<text x="787.50" y="235.00" font-size="30.5" text-anchor="middle" style="" transform="rotate(-90 787.5 235)">% of Control</text>
<text x="1336.50" y="296.20" font-size="30.5" text-anchor="middle" style="">ns</text>
<text x="943.20" y="449.00" font-size="30.5" text-anchor="middle" style="">-</text>
<text x="1030.30" y="449.00" font-size="30.5" text-anchor="middle" style="">+</text>
<text x="1117.30" y="449.00" font-size="30.5" text-anchor="middle" style="">-</text>
<text x="1207.30" y="449.00" font-size="30.5" text-anchor="middle" style="">+</text>
<text x="1293.80" y="449.00" font-size="30.5" text-anchor="middle" style="">-</text>
<text x="1377.90" y="449.00" font-size="30.5" text-anchor="middle" style="">+</text>
<text x="898.90" y="463.00" font-size="30.5" text-anchor="end" style="">+/- 0.1%</text>
<text x="903.60" y="500.00" font-size="30.5" text-anchor="end" style="">Tween80</text>
<text x="987.20" y="486.80" font-size="30.5" text-anchor="middle" style="">PAO1</text>
<text x="1161.00" y="486.80" font-size="30.5" text-anchor="middle" style="font-style:italic;">sigX</text>
<text x="1337.40" y="486.80" font-size="30.5" text-anchor="middle" style="font-style:italic;">oprF</text>
<text x="1425.30" y="529.80" font-size="30.5" text-anchor="end" style="">Max. biofilm across Cef dose-response</text>
</svg></body></html>
